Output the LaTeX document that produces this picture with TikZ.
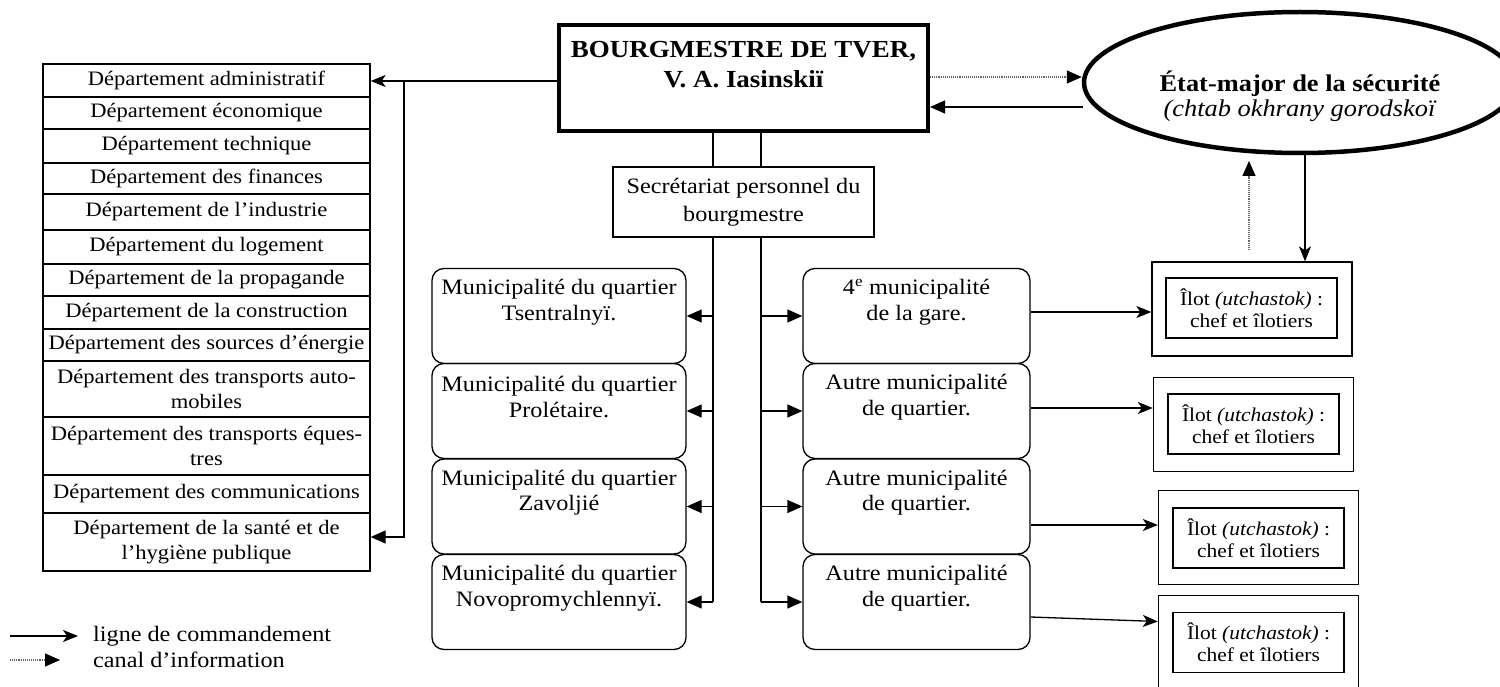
\documentclass[tikz,border=0pt]{standalone}
\usepackage{fontspec}
\setmainfont{Liberation Serif}[FakeStretch=1.1]
\usetikzlibrary{arrows.meta,shapes.geometric}

\tikzset{
  line/.style={line width=1.3pt},
  cmd/.style={line, -{Stealth[length=15pt,width=12pt,inset=4pt]}},
  cmdT/.style={line, -{Triangle[length=15pt,width=13pt]}},
  info/.style={line width=1.1pt, draw=black!60, densely dotted, -{Triangle[length=15pt,width=13pt,black]}},
  dept/.style={draw, line width=1.3pt, inner sep=0pt, align=center,
    minimum width=327pt, minimum height=#1, font=\fontsize{20.5}{24.5}\selectfont},
  mtext/.style={align=center, font=\fontsize{22}{25.5}\selectfont, yshift=14pt},
  muni/.style={draw, line width=1.3pt, rounded corners=12pt, inner sep=0pt,
    minimum height=95pt, label={[mtext]center:#1}},
  lmuni/.style={muni={#1}, minimum width=254pt},
  rmuni/.style={muni={#1}, minimum width=227pt},
  ilotout/.style={draw, line width=1.3pt, minimum width=200pt, minimum height=94pt},
  ilotin/.style={draw, line width=1.2pt, inner sep=0pt, align=center,
    minimum width=171pt, minimum height=60pt, font=\fontsize{19.5}{22}\selectfont},
}

\begin{document}
\begin{tikzpicture}[x=1pt,y=-1pt]
\path[use as bounding box, clip] (0,0) rectangle (1500,687);

% --- mayor and security staff ---
\node[draw, line width=4pt, inner sep=0pt, minimum width=369pt, minimum height=106pt,
  label={[align=center, yshift=13pt, font=\bfseries\fontsize{24.5}{30}\selectfont]center:BOURGMESTRE DE TVER,\\V. A. Iasinskiï}]
  (bourg) at (743.5,78) {};

\node[draw, ellipse, line width=4.5pt, inner sep=0pt, minimum width=432pt, minimum height=141pt,
  label={[align=center, yshift=-14pt, font=\fontsize{24}{25}\selectfont]center:\textbf{État-major de la sécurité}\\\textit{(chtab okhrany gorodskoï}}]
  (ell) at (1300,82.5) {};

\node[draw, line width=1.3pt, inner sep=0pt, align=center, minimum width=261pt, minimum height=70pt,
  font=\fontsize{22}{28}\selectfont] (sec) at (743.5,202) {Secrétariat personnel du\\bourgmestre};

% --- departments ---
\node[dept=33pt] (d1)  at (206.5,80.5) {Département administratif};
\node[dept=32pt] (d2)  at (206.5,113)  {Département économique};
\node[dept=34pt] (d3)  at (206.5,146)  {Département technique};
\node[dept=31pt] (d4)  at (206.5,178.5){Département des finances};
\node[dept=36pt] (d5)  at (206.5,212)  {Département de l’industrie};
\node[dept=34pt] (d6)  at (206.5,247)  {Département du logement};
\node[dept=32pt] (d7)  at (206.5,280)  {Département de la propagande};
\node[dept=33pt] (d8)  at (206.5,312.5){Département de la construction};
\node[dept=32pt] (d9)  at (206.5,345)  {Département des sources d’énergie};
\node[dept=56pt] (d10) at (206.5,389)  {Département des transports auto-\\mobiles};
\node[dept=58pt] (d11) at (206.5,446)  {Département des transports éques-\\tres};
\node[dept=38pt] (d12) at (206.5,494)  {Département des communications};
\node[dept=58pt] (d13) at (206.5,542)  {Département de la santé et de\\l’hygiène publique};

% --- district municipalities ---
\node[lmuni={Municipalité du quartier\\Tsentralnyï.}]        (m1) at (559,316)   {};
\node[lmuni={Municipalité du quartier\\Prolétaire.}]         (m2) at (559,411)   {};
\node[lmuni={Municipalité du quartier\\Zavoljié}]            (m3) at (559,506.5) {};
\node[lmuni={Municipalité du quartier\\Novopromychlennyï.}]  (m4) at (559,602)   {};

\node[rmuni={4\textsuperscript{e} municipalité\\de la gare.}]  (r1) at (916.5,316)   {};
\node[rmuni={Autre municipalité\\de quartier.}]              (r2) at (916.5,411)   {};
\node[rmuni={Autre municipalité\\de quartier.}]              (r3) at (916.5,506.5) {};
\node[rmuni={Autre municipalité\\de quartier.}]              (r4) at (916.5,602)   {};

% --- police blocks ---
\node[ilotout] (o1) at (1252,309)     {};
\node[ilotout] (o2) at (1253.5,424.5) {};
\node[ilotout] (o3) at (1258.5,537.5) {};
\node[ilotout] (o4) at (1258.5,642.5) {};
\node[ilotin] (i1) at (1251.5,308)  {Îlot \textit{(utchastok)} :\\ chef et îlotiers};
\node[ilotin] (i2) at (1253.5,424)  {Îlot \textit{(utchastok)} :\\ chef et îlotiers};
\node[ilotin] (i3) at (1258.5,538)  {Îlot \textit{(utchastok)} :\\ chef et îlotiers};
\node[ilotin] (i4) at (1258.5,642.5){Îlot \textit{(utchastok)} :\\ chef et îlotiers};

% --- connectors ---
\coordinate (jl) at (404,0);
\coordinate (vl) at (713,0);
\coordinate (vr) at (761,0);
\coordinate (bw) at ([yshift=-3pt]bourg.west);
\coordinate (d13in) at ([yshift=5pt]d13.east);

\draw[cmd] (bw) -- (bw -| d1.east);
\draw[cmdT] (bw -| jl) -- (jl |- d13in) -- (d13in);

\draw[line] (bourg.south -| vl) -- (sec.north -| vl);
\draw[line] (bourg.south -| vr) -- (sec.north -| vr);
\draw[line] (sec.south -| vl) -- (vl |- m4.east);
\draw[line] (sec.south -| vr) -- (vr |- r4.west);
\foreach \i in {1,2,3,4}{
  \draw[cmdT] (vl |- m\i.east) -- (m\i.east);
  \draw[cmdT] (vr |- r\i.west) -- (r\i.west);
}

\coordinate (be) at ([yshift=1pt]bourg.east);
\draw[info] (be) -- (be -| ell.west);
\coordinate (eback) at (1083,107);
\draw[cmdT] (eback) -- (eback -| bourg.east);

\coordinate (up1) at (1249,250);
\coordinate (up2) at (1249,161);
\draw[info] (up1) -- (up2);
\coordinate (dn) at (1305,153);
\draw[cmd] (dn) -- (dn |- o1.north);

\coordinate (a1) at ([yshift=4pt]r1.east);
\coordinate (a2) at ([yshift=3pt]r2.east);
\coordinate (a3) at ([yshift=-18.5pt]r3.east);
\draw[cmd] (a1) -- (a1 -| o1.west);
\draw[cmd] (a2) -- (a2 -| o2.west);
\draw[cmd] (a3) -- (a3 -| o3.west);
\draw[cmd] ([yshift=-15pt]r4.east) -- ([yshift=21pt]o4.west);

% --- legend ---
\coordinate (la) at (10,636);
\coordinate (lb) at (78,636);
\coordinate (lc) at (10,660);
\coordinate (ld) at (60,660);
\draw[cmd] (la) -- (lb);
\draw[info] (lc) -- (ld);
\node[anchor=west, inner sep=0pt, font=\fontsize{22}{24}\selectfont] (lg1) at (93,636) {ligne de commandement};
\node[anchor=west, inner sep=0pt, font=\fontsize{22}{24}\selectfont] (lg2) at (93,660) {canal d’information};
\end{tikzpicture}
\end{document}
